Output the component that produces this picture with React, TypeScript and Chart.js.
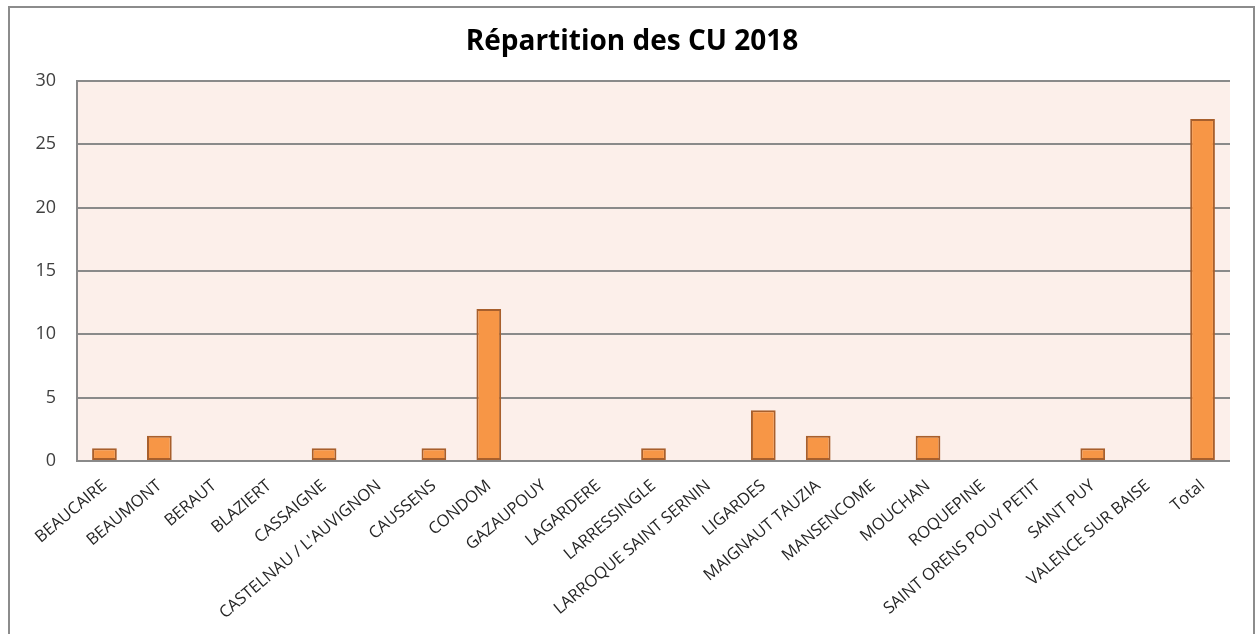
import React, { useEffect, useRef } from "react";
import { Chart, registerables } from "chart.js";

Chart.register(...registerables);

const categories = [
  "BEAUCAIRE", "BEAUMONT", "BERAUT", "BLAZIERT", "CASSAIGNE",
  "CASTELNAU / L'AUVIGNON", "CAUSSENS", "CONDOM", "GAZAUPOUY", "LAGARDERE",
  "LARRESSINGLE", "LARROQUE SAINT SERNIN", "LIGARDES", "MAIGNAUT TAUZIA",
  "MANSENCOME", "MOUCHAN", "ROQUEPINE", "SAINT ORENS POUY PETIT",
  "SAINT PUY", "VALENCE SUR BAISE", "Total",
];
const values = [1, 2, 0, 0, 1, 0, 1, 12, 0, 0, 1, 0, 4, 2, 0, 2, 0, 0, 1, 0, 27];
const chartTitle = "Répartition des CU 2018";
const yMin = 0;
const yMax = 30;
const yStep = 5;

const FONT = "'Open Sans', 'Liberation Sans', sans-serif";

const framePlugin = {
  id: "frame",
  beforeDraw(chart: any) {
    const { ctx, chartArea, width, height } = chart;
    ctx.save();
    ctx.fillStyle = "#ffffff";
    ctx.fillRect(0, 0, width, height);
    ctx.strokeStyle = "#8c8c8c";
    ctx.lineWidth = 2;
    ctx.beginPath();
    ctx.moveTo(9, height + 5);
    ctx.lineTo(9, 7);
    ctx.lineTo(width - 1, 7);
    ctx.lineTo(width - 1, height + 5);
    ctx.stroke();
    ctx.fillStyle = "#fcefea";
    ctx.fillRect(chartArea.left, chartArea.top, chartArea.right - chartArea.left, chartArea.bottom - chartArea.top);
    ctx.fillStyle = "#000000";
    ctx.font = `bold 28px ${FONT}`;
    ctx.textAlign = "center";
    ctx.textBaseline = "middle";
    ctx.fillText(chartTitle, 632, 42);
    ctx.restore();
  },
};

export default function App() {
  const ref = useRef<HTMLCanvasElement | null>(null);
  useEffect(() => {
    if (!ref.current) return;
    const chart = new Chart(ref.current, {
      type: "bar",
      data: {
        labels: categories,
        datasets: [
          {
            data: values,
            backgroundColor: "#f79646",
            borderColor: "#a85f2c",
            borderWidth: 2,
            borderSkipped: false,
            barPercentage: 0.45,
            categoryPercentage: 1,
          },
        ],
      },
      plugins: [framePlugin],
      options: {
        responsive: false,
        animation: false,
        layout: { padding: { top: 81, right: 25, left: 0, bottom: 0 } },
        plugins: { legend: { display: false }, title: { display: false }, tooltip: { enabled: false } },
        scales: {
          x: {
            grid: { display: false, drawTicks: false },
            border: { display: false },
            ticks: {
              autoSkip: false,
              maxRotation: 40,
              minRotation: 40,
              padding: 15,
              color: "#262626",
              font: { family: FONT, size: 16.5 },
            },
            afterFit(scale: any) {
              scale.height = 173;
            },
          },
          y: {
            min: yMin,
            max: yMax,
            ticks: {
              stepSize: yStep,
              padding: 21,
              color: "#404040",
              font: { family: FONT, size: 18 },
            },
            grid: { color: "#8a8a8a", lineWidth: 2, drawTicks: false },
            border: { display: true, color: "#8a8a8a", width: 2 },
            afterFit(scale: any) {
              scale.width = 77;
            },
          },
        },
      },
    });
    return () => chart.destroy();
  }, []);
  return (
    <div style={{ position: "fixed", left: 0, top: 0, width: 1255, height: 634, background: "#fff" }}>
      <canvas ref={ref} width={1255} height={634} style={{ display: "block" }} />
    </div>
  );
}
